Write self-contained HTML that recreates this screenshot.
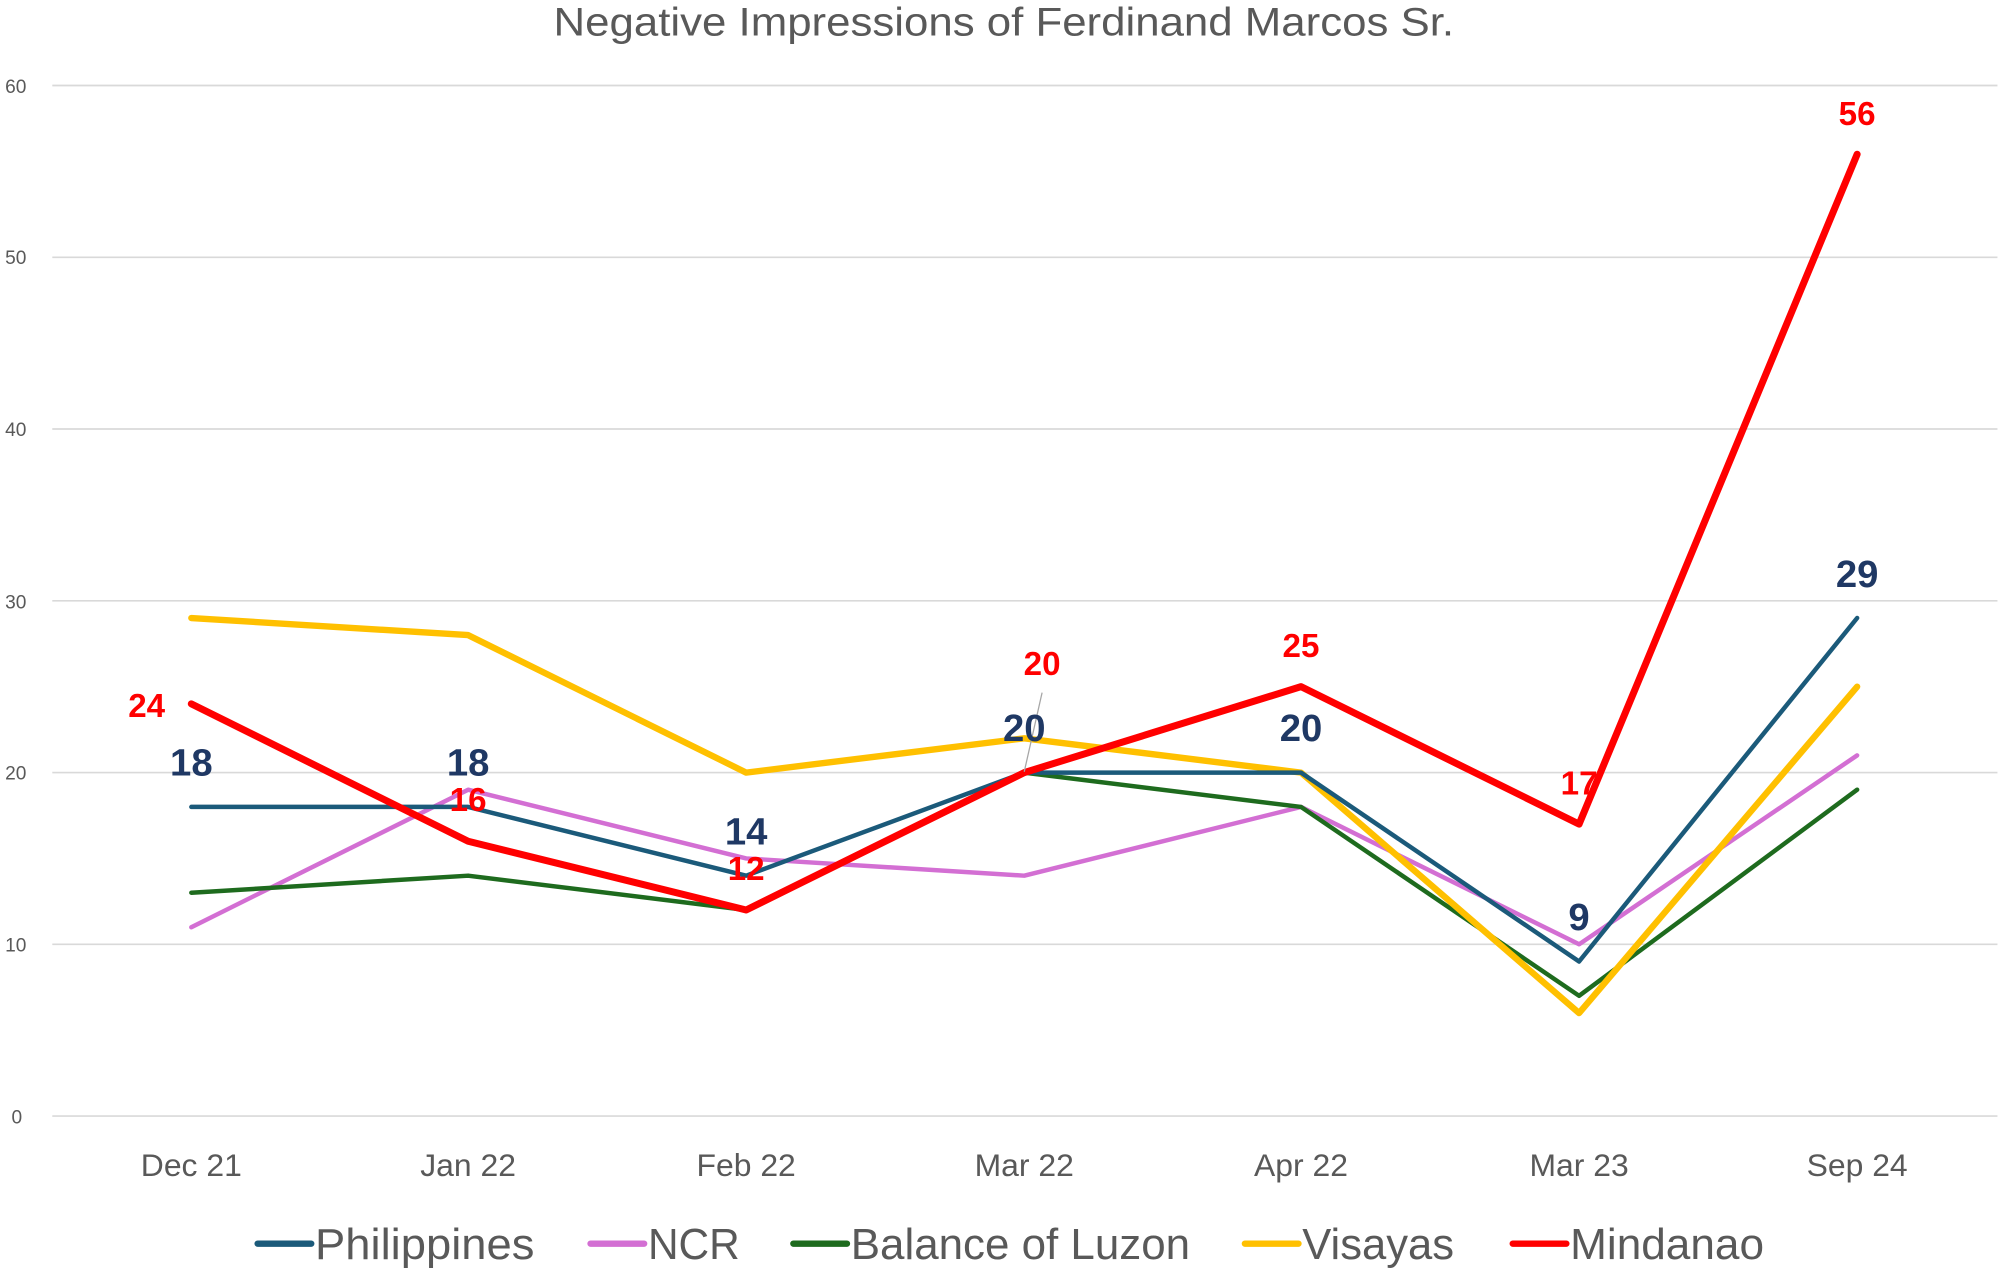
<!DOCTYPE html>
<html><head><meta charset="utf-8"><style>html,body{margin:0;padding:0;background:#fff}svg{display:block}</style></head>
<body>
<svg width="2000" height="1272" viewBox="0 0 1568 997.2" xmlns="http://www.w3.org/2000/svg" font-family="Liberation Sans, sans-serif">
<text x="787" y="28" text-anchor="middle" font-size="31" fill="#595959" textLength="706" lengthAdjust="spacingAndGlyphs">Negative Impressions of Ferdinand Marcos Sr.</text>
<g stroke="#d9d9d9" stroke-width="1.3">
<line x1="41" x2="1566" y1="67" y2="67"/><line x1="41" x2="1566" y1="201.7" y2="201.7"/><line x1="41" x2="1566" y1="336.3" y2="336.3"/><line x1="41" x2="1566" y1="471" y2="471"/><line x1="41" x2="1566" y1="605.7" y2="605.7"/><line x1="41" x2="1566" y1="740.3" y2="740.3"/><line x1="41" x2="1566" y1="875" y2="875"/>
</g>
<g font-size="15" fill="#595959">
<text x="4" y="73">60</text><text x="4" y="207">50</text><text x="4" y="342">40</text><text x="4" y="477">30</text><text x="4" y="611">20</text><text x="4" y="746">10</text><text x="9" y="881">0</text>
</g>
<g font-size="25" fill="#595959" text-anchor="middle">
<text x="150" y="922">Dec 21</text><text x="367" y="922">Jan 22</text><text x="585" y="922">Feb 22</text><text x="803" y="922">Mar 22</text><text x="1020" y="922">Apr 22</text><text x="1238" y="922">Mar 23</text><text x="1456" y="922">Sep 24</text>
</g>
<g fill="none" stroke-linejoin="round" stroke-linecap="round">
<polyline stroke="#d36fd3" stroke-width="3.5" points="150,726.9 367,619.1 585,673 803,686.5 1020,632.6 1238,740.3 1456,592.2"/>
<polyline stroke="#1e6b1e" stroke-width="3.5" points="150,699.9 367,686.5 585,713.4 803,605.7 1020,632.6 1238,780.7 1456,619.1"/>
<polyline stroke="#ffc000" stroke-width="5" points="150,484.5 367,497.9 585,605.7 803,578.8 1020,605.7 1238,794.2 1456,538.3"/>
<polyline stroke="#1b5a7a" stroke-width="3.5" points="150,632.6 367,632.6 585,686.5 803,605.7 1020,605.7 1238,753.8 1456,484.5"/>
<polyline stroke="#ff0000" stroke-width="5.5" points="150,551.8 367,659.5 585,713.4 803,605.7 1020,538.3 1238,646.1 1456,120.9"/>
</g>
<line x1="803" y1="605" x2="817" y2="543" stroke="#a6a6a6" stroke-width="1"/>
<g font-size="30" font-weight="bold" fill="#1f3864" text-anchor="middle">
<text x="150" y="608">18</text><text x="367" y="608">18</text><text x="585" y="662">14</text><text x="803" y="581">20</text><text x="1020" y="581">20</text><text x="1238" y="729">9</text><text x="1456" y="460">29</text>
</g>
<g font-size="26" font-weight="bold" fill="#ff0000" text-anchor="middle">
<text x="115" y="562">24</text><text x="367" y="636">16</text><text x="585" y="690">12</text><text x="817" y="529">20</text><text x="1020" y="515">25</text><text x="1238" y="623">17</text><text x="1456" y="98">56</text>
</g>
<g stroke-width="5" stroke-linecap="round">
<line x1="202" x2="244" y1="975" y2="975" stroke="#1b5a7a"/>
<line x1="463" x2="505" y1="975" y2="975" stroke="#d36fd3"/>
<line x1="622" x2="664" y1="975" y2="975" stroke="#1e6b1e"/>
<line x1="976" x2="1018" y1="975" y2="975" stroke="#ffc000"/>
<line x1="1186" x2="1228" y1="975" y2="975" stroke="#ff0000"/>
</g>
<g font-size="34" fill="#595959">
<text x="247" y="987" textLength="172" lengthAdjust="spacingAndGlyphs">Philippines</text>
<text x="508" y="987" textLength="72" lengthAdjust="spacingAndGlyphs">NCR</text>
<text x="667" y="987" textLength="266" lengthAdjust="spacingAndGlyphs">Balance of Luzon</text>
<text x="1021" y="987" textLength="119" lengthAdjust="spacingAndGlyphs">Visayas</text>
<text x="1231" y="987" textLength="152" lengthAdjust="spacingAndGlyphs">Mindanao</text>
</g>
</svg>
</body></html>
